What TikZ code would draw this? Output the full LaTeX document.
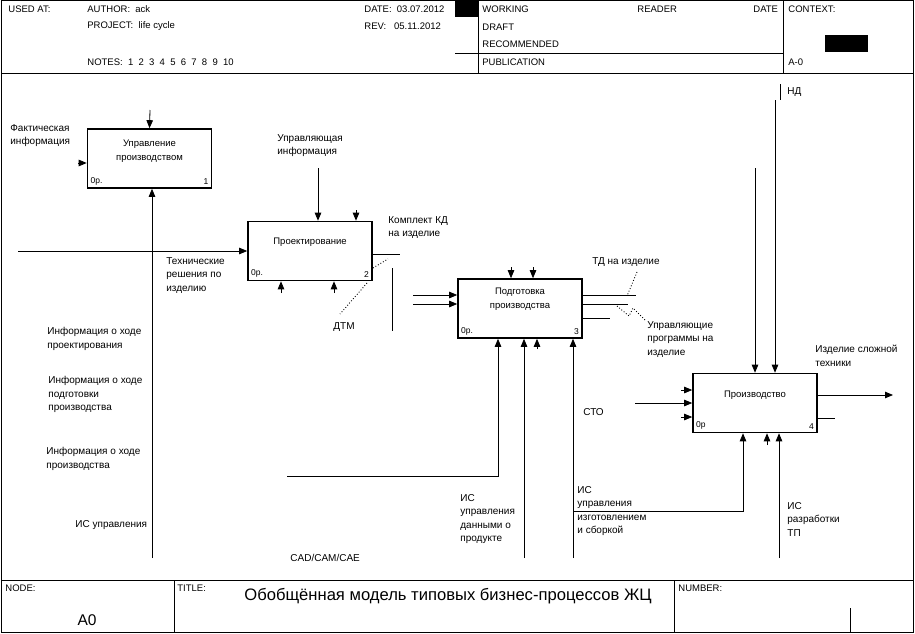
\documentclass[tikz,border=0pt]{standalone}
\usepackage{fontspec}
\setmainfont{Liberation Sans}
\usetikzlibrary{arrows.meta,positioning}

\begin{document}
\begin{tikzpicture}[x=1pt,y=-1pt,>={Triangle[length=8pt,width=6.5pt]},line width=0.8pt,
	every node/.style={font=\fontsize{10}{13.5}\selectfont,inner sep=0pt},
	func/.style={draw,line width=1.6pt,minimum width=124pt,minimum height=59pt},
	fname/.style={align=center,font=\fontsize{9.5}{14}\selectfont},
	cost/.style={font=\fontsize{8.5}{10}\selectfont,inner sep=3.5pt},
	lbl/.style={align=left,anchor=north west},
	hdr/.style={font=\fontsize{9.5}{10}\selectfont,anchor=west},
	squig/.style={dotted,line width=0.9pt}]
	\useasboundingbox (0,0) rectangle (915,634);

	% frame
	\draw[line width=1pt] (1,1) rectangle (913,632);
	\draw (1,73) -- (913,73);
	\draw (478,1) -- (478,73);
	\draw (783,1) -- (783,73);
	\draw (455,53) -- (783,53);
	\fill (455,1) rectangle (478,17);
	\fill (825,35) rectangle (868,52);
	\draw (1,580) -- (913,580);
	\draw (174,580) -- (174,632);
	\draw (674,580) -- (674,632);
	\draw (850,608) -- (850,632);

	% header
	\node[hdr] (usedat) at (8,9) {USED AT:};
	\node[hdr] (author) at (87,9) {AUTHOR: \ ack};
	\node[hdr] (project) at (87,26) {PROJECT: \ life cycle};
	\node[hdr] (notes) at (87,62) {NOTES: \ 1 \ 2 \ 3 \ 4 \ 5 \ 6 \ 7 \ 8 \ 9 \ 10};
	\node[hdr] (date) at (364,9) {DATE: \ 03.07.2012};
	\node[hdr] (rev) at (364,26) {REV: \ \ 05.11.2012};
	\node[hdr] (working) at (482,9) {WORKING};
	\node[hdr] (draft) at (482,27) {DRAFT};
	\node[hdr] (recomm) at (482,44) {RECOMMENDED};
	\node[hdr] (public) at (482,62) {PUBLICATION};
	\node[hdr] (reader) at (637,9) {READER};
	\node[hdr] (rdate) at (753,9) {DATE};
	\node[hdr] (context) at (788,9) {CONTEXT:};
	\node[hdr] (anull) at (788,62) {A-0};

	% footer
	\node[hdr] (nodelbl) at (5,588) {NODE:};
	\node[hdr] (titlelbl) at (177,588) {TITLE:};
	\node[hdr] (numlbl) at (678,588) {NUMBER:};
	\node (nodeid) at (87,620) {\fontsize{15.5}{18}\selectfont A0};
	\node (title) at (448,596) {\fontsize{16.6}{18}\selectfont Обобщённая модель типовых бизнес-процессов ЖЦ};

	% functions
	\node[func] (upr) at (149.5,158.5) {};
	\node[func] (proekt) at (310,251) {};
	\node[func] (podg) at (520,308.5) {};
	\node[func] (proizv) at (755,403) {};
	\node[fname] (uprname) at ([yshift=7pt]upr.center) {Управление\\производством};
	\node[fname] (proektname) at ([yshift=9pt]proekt.center) {Проектирование};
	\node[fname] (podgname) at ([yshift=9pt]podg.center) {Подготовка\\производства};
	\node[fname] (proizvname) at ([yshift=8pt]proizv.center) {Производство};
	\node[cost,anchor=south west] (upr0) at (upr.south west) {0р.};
	\node[cost,anchor=south east] (upr1) at (upr.south east) {1};
	\node[cost,anchor=south west] (proekt0) at (proekt.south west) {0р.};
	\node[cost,anchor=south east] (proekt2) at (proekt.south east) {2};
	\node[cost,anchor=south west] (podg0) at (podg.south west) {0р.};
	\node[cost,anchor=south east] (podg3) at (podg.south east) {3};
	\node[cost,anchor=south west] (proizv0) at (proizv.south west) {0р};
	\node[cost,anchor=south east] (proizv4) at (proizv.south east) {4};

	% arrow ends
	\coordinate (c1) at (150,110);
	\coordinate (i1) at (78,163);
	\coordinate (m1) at (152,558);
	\coordinate (i2) at (18,251);
	\coordinate (c2) at (318,168);
	\coordinate (c2b) at (356,210);
	\coordinate (m2a) at (281,293);
	\coordinate (m2b) at (334,293);
	\coordinate (o2) at (400,254);
	\coordinate (kd1) at (392,268);
	\coordinate (kd2) at (392,331);
	\coordinate (i3a) at (413,295);
	\coordinate (i3b) at (413,304);
	\coordinate (c3a) at (511,267);
	\coordinate (c3b) at (533,267);
	\coordinate (cad) at (287,476);
	\coordinate (m3a) at (498,476);
	\coordinate (m3b) at (524,558);
	\coordinate (m3c) at (537,349);
	\coordinate (m3d) at (573,558);
	\coordinate (o3a) at (636,295);
	\coordinate (o3b) at (628,304);
	\coordinate (o3c) at (610,318);
	\coordinate (i4a) at (681,390);
	\coordinate (i4b) at (635,403);
	\coordinate (i4c) at (681,417);
	\coordinate (c4a) at (755,168);
	\coordinate (c4b) at (775,100);
	\coordinate (o4) at (893,395);
	\coordinate (o4b) at (835,418);
	\coordinate (isu) at (573,511);
	\coordinate (m4a) at (743,511);
	\coordinate (m4b) at (767,445);
	\coordinate (m4c) at (779,558);
	\coordinate (nd1) at (780,84);
	\coordinate (nd2) at (780,100);

	% arrows
	\draw[->] (c1) -- (upr.north);
	\draw[->] (i1) -- (i1 -| upr.west);
	\draw[->] (m1) -- (m1 |- upr.south);
	\draw[->] (i2) -- (proekt.west);
	\draw[->] (c2) -- (c2 |- proekt.north);
	\draw[->] (c2b) -- (c2b |- proekt.north);
	\draw[->] (m2a) -- (m2a |- proekt.south);
	\draw[->] (m2b) -- (m2b |- proekt.south);
	\draw (o2 -| proekt.east) -- (o2);
	\draw (kd1) -- (kd2);
	\draw[->] (i3a) -- (i3a -| podg.west);
	\draw[->] (i3b) -- (i3b -| podg.west);
	\draw[->] (c3a) -- (c3a |- podg.north);
	\draw[->] (c3b) -- (c3b |- podg.north);
	\draw[->] (cad) -- (m3a) -- (m3a |- podg.south);
	\draw[->] (m3b) -- (m3b |- podg.south);
	\draw[->] (m3c) -- (m3c |- podg.south);
	\draw[->] (m3d) -- (m3d |- podg.south);
	\draw (o3a -| podg.east) -- (o3a);
	\draw (o3b -| podg.east) -- (o3b);
	\draw (o3c -| podg.east) -- (o3c);
	\draw[->] (i4a) -- (i4a -| proizv.west);
	\draw[->] (i4b) -- (i4b -| proizv.west);
	\draw[->] (i4c) -- (i4c -| proizv.west);
	\draw[->] (c4a) -- (proizv.north);
	\draw[->] (c4b) -- (c4b |- proizv.north);
	\draw[->] (o4 -| proizv.east) -- (o4);
	\draw (o4b -| proizv.east) -- (o4b);
	\draw[->] (isu) -- (m4a) -- (m4a |- proizv.south);
	\draw[->] (m4b) -- (m4b |- proizv.south);
	\draw[->] (m4c) -- (m4c |- proizv.south);
	\draw (nd1) -- (nd2);

	% squiggles
	\draw[squig] (367,283) -- (340,314);
	\draw[squig] (373,268) -- (388,259);
	\draw[squig] (637,272) -- (627,296);
	\draw[squig] (617,306) -- (629,316) -- (633,308) -- (646,321);

	% arrow labels
	\node[lbl] (fakt) at (10,124) {Фактическая\\информация};
	\node[lbl] (uprinf) at (277,134) {Управляющая\\информация};
	\node[lbl] (tehres) at (166,257) {Технические\\решения по\\изделию};
	\node[lbl] (kompl) at (388,216) {Комплект КД\\на изделие};
	\node[anchor=west] (dtm) at (333,327) {ДТМ};
	\node[anchor=west] (td) at (592,262) {ТД на изделие};
	\node[lbl] (uprprog) at (647,321) {Управляющие\\программы на\\изделие};
	\node[lbl] (izd) at (815,345) {Изделие сложной\\техники};
	\node[anchor=west] (sto) at (583,412) {СТО};
	\node[anchor=west] (nd) at (787,92) {НД};
	\node[lbl] (isizg) at (577,486) {ИС\\управления\\изготовлением\\и сборкой};
	\node[lbl] (isrtp) at (787,502) {ИС\\разработки\\ТП};
	\node[lbl] (isdan) at (460,494) {ИС\\управления\\данными о\\продукте};
	\node[anchor=west] (cadlbl) at (290,558) {CAD/CAM/CAE};
	\node[lbl] (infpr) at (47,327) {Информация о ходе\\проектирования};
	\node[lbl] (infpod) at (48,376) {Информация о ходе\\подготовки\\производства};
	\node[lbl] (infproiz) at (46,447) {Информация о ходе\\производства};
	\node[anchor=west] (isupr) at (75,525) {ИС управления};
\end{tikzpicture}
\end{document}
